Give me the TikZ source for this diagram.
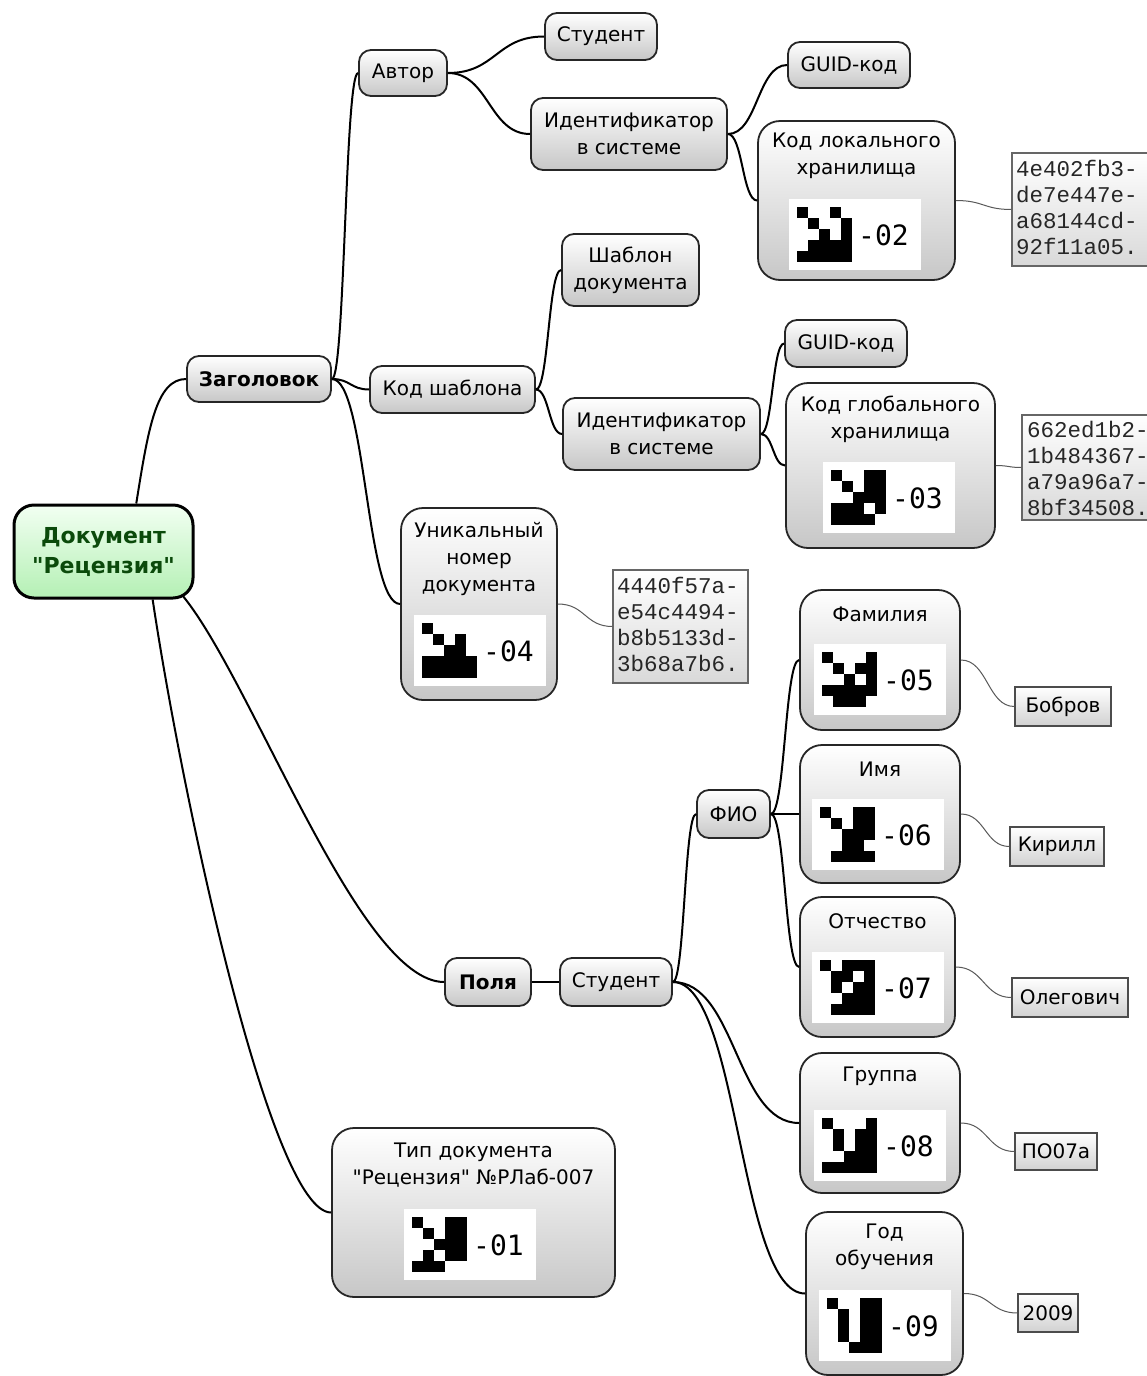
\documentclass[tikz,border=0pt]{standalone}
\usepackage{fontspec}
\setmainfont{DejaVu Sans}[Ligatures=TeXOff]
\newfontfamily\hexfont{Liberation Mono}
\newfontfamily\labfont{DejaVu Sans Mono}
\usetikzlibrary{calc}
\definecolor{rootgreen}{HTML}{0B4A0B}
\definecolor{rootbot}{HTML}{B4F0B4}
\definecolor{roottop}{HTML}{F2FFF2}
\newcommand\txt{\fontsize{20}{27}\selectfont}
\newcommand\pixglyph[4]{%
  \fill[white] (#1-8,#2-8) rectangle (#1+124,#2+63);
  \foreach \row [count=\ri] in {#4}{%
    \foreach \v [count=\ci] in \row {%
      \ifnum\v=1 \fill[black] ({#1+(\ci-1)*11},{#2+(\ri-1)*11}) rectangle ++(11.3,11.3);\fi
    }}%
  \node[anchor=west, inner sep=0pt, font=\labfont\fontsize{28}{28}\selectfont] at (#1+61,#2+28) {#3};
}
\tikzset{
  nd/.style={draw=black!85, line width=1.8pt, rounded corners=12pt, top color=white, bottom color=black!22, inner sep=0pt, font=\txt, align=center},
  bignd/.style={nd, rounded corners=22pt},
  hexbox/.style={draw=black!60, line width=1.2pt, top color=white, bottom color=black!15, inner sep=0pt},
  valbox/.style={draw=black!70, line width=1.2pt, top color=white, bottom color=black!18, inner sep=0pt, font=\txt},
  hextext/.style={anchor=west, inner sep=0pt, align=left, text=black!85, font=\hexfont\fontsize{22.5}{26}\selectfont},
  intext/.style={inner sep=0pt, align=center, font=\txt},
  conn/.style={draw=black, line width=2pt},
  thin/.style={draw=black!65, line width=1pt},
  scurve/.style={to path={let \p1=(\tikztostart), \p2=(\tikztotarget), \n1={0.5*(\x2-\x1)} in .. controls +(\n1,0) and +(-\n1,0) .. (\tikztotarget) \tikztonodes}}
}
\begin{document}
\begin{tikzpicture}[x=1pt,y=-1pt]
\useasboundingbox[fill=white] (0,0) rectangle (1147,1376);

% root
\node[draw=black, line width=3pt, rounded corners=20pt, top color=roottop, bottom color=rootbot, minimum width=179pt, minimum height=93pt, inner sep=0pt, align=center, text=rootgreen, font=\bfseries\fontsize{22}{30}\selectfont] (root) at (103.5,551.5) {Документ\\"Рецензия"};

% level 1
\node[nd, minimum width=144pt, minimum height=46pt, font=\txt\bfseries] (zag) at (259,379) {Заголовок};
\node[nd, minimum width=86pt, minimum height=48pt, font=\txt\bfseries] (polya) at (488,982) {Поля};
\node[bignd, minimum width=283pt, minimum height=169pt] (tip) at (473.5,1212.5) {};
\node[intext] at (473.5,1165) {Тип документа\\"Рецензия" №РЛаб-007};
\pixglyph{412}{1217}{-01}{{1,0,0,1,1},{0,1,0,1,1},{0,0,1,1,1},{0,1,0,1,1},{1,1,1,0,0}}

% header branch
\node[nd, minimum width=88pt, minimum height=46pt] (avtor) at (403,73) {Автор};
\node[nd, minimum width=112pt, minimum height=47pt] (stud1) at (601,36.5) {Студент};
\node[nd, minimum width=196pt, minimum height=72pt] (id1) at (629,134) {Идентификатор\\в системе};
\node[nd, minimum width=122pt, minimum height=46pt] (guid1) at (849,65) {GUID-код};
\node[bignd, minimum width=197pt, minimum height=159pt] (loc) at (856.5,200.5) {};
\node[intext] at (856.5,155.5) {Код локального\\хранилища};
\pixglyph{797}{207}{-02}{{1,0,0,1,0},{0,1,0,0,1},{0,0,1,0,1},{0,1,1,1,1},{1,1,1,1,1}}
\node[hexbox, minimum width=150pt, minimum height=113pt] (hex1) at (1087,209.5) {};
\node[hextext] at (1016,207) {4e402fb3-\\de7e447e-\\a68144cd-\\92f11a05.};

\node[nd, minimum width=137pt, minimum height=72pt] (shab) at (630.5,270) {Шаблон\\документа};
\node[nd, minimum width=165pt, minimum height=47pt] (kodsh) at (452.5,389.5) {Код шаблона};
\node[nd, minimum width=122pt, minimum height=47pt] (guid2) at (846,343.5) {GUID-код};
\node[nd, minimum width=197pt, minimum height=72pt] (id2) at (661.5,434) {Идентификатор\\в системе};
\node[bignd, minimum width=209pt, minimum height=165pt] (glob) at (890.5,465.5) {};
\node[intext] at (890.5,419.5) {Код глобального\\хранилища};
\pixglyph{831}{470}{-03}{{1,0,0,1,1},{0,1,0,1,1},{0,0,1,1,1},{1,1,1,0,1},{1,1,1,1,0}}
\node[hexbox, minimum width=150pt, minimum height=105pt] (hex2) at (1097,467.5) {};
\node[hextext] at (1027,468) {662ed1b2-\\1b484367-\\a79a96a7-\\8bf34508.};

\node[bignd, minimum width=156pt, minimum height=192pt] (uniq) at (479,604) {};
\node[intext] at (479,559) {Уникальный\\номер\\документа};
\pixglyph{422}{623}{-04}{{1,0,0,0,0},{0,1,0,1,0},{0,0,1,1,0},{1,1,1,1,1},{1,1,1,1,1}}
\node[hexbox, minimum width=135pt, minimum height=113pt] (hex3) at (680.5,626.5) {};
\node[hextext] at (617,624) {4440f57a-\\e54c4494-\\b8b5133d-\\3b68a7b6.};

% fields branch
\node[nd, minimum width=112pt, minimum height=48pt] (stud2) at (616,982) {Студент};
\node[nd, minimum width=73pt, minimum height=48pt] (fio) at (733.5,814) {ФИО};

\node[bignd, minimum width=160pt, minimum height=140pt] (fam) at (880,660) {};
\node[intext] at (880,614) {Фамилия};
\pixglyph{822}{652}{-05}{{1,0,0,0,1},{0,1,0,1,1},{0,0,1,0,1},{1,1,1,1,1},{0,1,1,1,0}}
\node[valbox, minimum width=96pt, minimum height=39pt] (bob) at (1063,706.5) {Бобров};

\node[bignd, minimum width=160pt, minimum height=138pt] (imya) at (880,814) {};
\node[intext] at (880,769) {Имя};
\pixglyph{820}{807}{-06}{{1,0,0,1,1},{0,1,0,1,1},{0,0,1,1,1},{0,0,1,1,0},{0,1,1,1,1}}
\node[valbox, minimum width=94pt, minimum height=39pt] (kir) at (1057,846.5) {Кирилл};

\node[bignd, minimum width=155pt, minimum height=140pt] (otch) at (877.5,967) {};
\node[intext] at (877.5,921) {Отчество};
\pixglyph{820}{960}{-07}{{1,0,1,1,1},{0,1,1,0,1},{0,1,0,1,1},{0,0,1,1,1},{0,1,1,1,1}}
\node[valbox, minimum width=116pt, minimum height=39pt] (oleg) at (1070,997.5) {Олегович};

\node[bignd, minimum width=160pt, minimum height=140pt] (grp) at (880,1123) {};
\node[intext] at (880,1076) {Группа};
\pixglyph{822}{1118}{-08}{{1,0,0,0,1},{0,1,0,1,1},{0,1,0,1,1},{0,0,1,1,1},{1,1,1,1,1}}
\node[valbox, minimum width=82pt, minimum height=37pt] (po) at (1056,1151.5) {ПО07а};

\node[bignd, minimum width=157pt, minimum height=163pt] (god) at (884.5,1293.5) {};
\node[intext] at (884.5,1247) {Год\\обучения};
\pixglyph{827}{1298}{-09}{{1,0,0,1,1},{0,1,0,1,1},{0,1,0,1,1},{0,1,0,1,1},{0,0,1,1,1}}
\node[valbox, minimum width=60pt, minimum height=38pt] (y2009) at (1048,1313) {2009};

% connectors from root
\draw[conn] ($(root.north west)!0.68!(root.north east)$) .. controls +(12,-75) and +(-30,0) .. (zag.west);
\draw[conn] ($(root.south east)+(-12,-4)$) .. controls +(70,85) and +(-85,0) .. (polya.west);
\draw[conn] ($(root.south west)!0.77!(root.south east)$) .. controls +(30,200) and +(-60,0) .. (tip.west);

% header connectors
\draw[conn] (zag.east) to[scurve] (avtor.west);
\draw[conn] (zag.east) to[scurve] (kodsh.west);
\draw[conn] (zag.east) to[scurve] (uniq.west);
\draw[conn] (avtor.east) to[scurve] (stud1.west);
\draw[conn] (avtor.east) to[scurve] (id1.west);
\draw[conn] (id1.east) to[scurve] (guid1.west);
\draw[conn] (id1.east) to[scurve] (loc.west);
\draw[conn] (kodsh.east) to[scurve] (shab.west);
\draw[conn] (kodsh.east) to[scurve] (id2.west);
\draw[conn] (id2.east) to[scurve] (guid2.west);
\draw[conn] (id2.east) to[scurve] (glob.west);
\draw[thin] (loc.east) to[scurve] (hex1.west);
\draw[thin] (glob.east) to[scurve] (hex2.west);
\draw[thin] (uniq.east) to[scurve] (hex3.west);

% fields connectors
\draw[conn] (polya.east) -- (stud2.west);
\draw[conn] (stud2.east) to[scurve] (fio.west);
\draw[conn] (stud2.east) to[scurve] (grp.west);
\draw[conn] (stud2.east) to[scurve] (god.west);
\draw[conn] (fio.east) to[scurve] (fam.west);
\draw[conn] (fio.east) to[scurve] (imya.west);
\draw[conn] (fio.east) to[scurve] (otch.west);
\draw[thin] (fam.east) to[scurve] (bob.west);
\draw[thin] (imya.east) to[scurve] (kir.west);
\draw[thin] (otch.east) to[scurve] (oleg.west);
\draw[thin] (grp.east) to[scurve] (po.west);
\draw[thin] (god.east) to[scurve] (y2009.west);
\end{tikzpicture}
\end{document}
